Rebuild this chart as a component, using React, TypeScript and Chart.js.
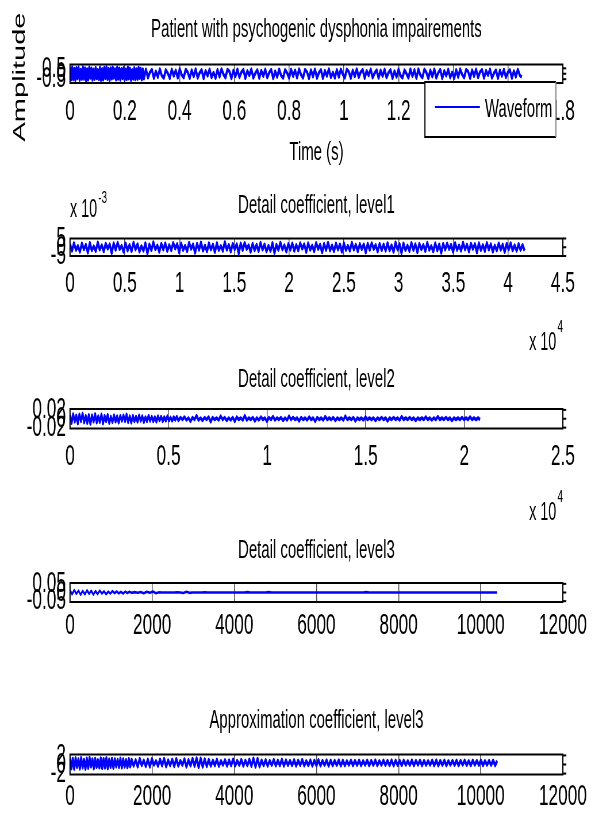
import React, { useEffect, useRef } from "react";
import { Chart, registerables } from "chart.js";

Chart.register(...registerables);

// ---------------- data ----------------
const waveformLabel = "Waveform";
// waveform: dense voiced onset (0 .. 0.27 s) then the rest (0.27 .. 1.65 s)
const waveformOnsetEnd = 0.27;
const waveformEnd = 1.65;
const waveformOnset = [
  0.58, -0.55, 0.61, -0.52, 0.47, -0.6, 0.55, -0.43, 0.6, -0.58,
  0.39, -0.5, 0.62, -0.47, 0.52, -0.61, 0.44, -0.56, 0.59, -0.38,
  0.5, -0.57, 0.41, -0.49, 0.56, -0.44, 0.36, -0.52, 0.6, -0.59,
  0.45, -0.54, 0.57, -0.41, 0.62, -0.5, 0.48, -0.6, 0.53, -0.46,
  0.58, -0.39, 0.44, -0.55, 0.6, -0.48, 0.51, -0.57, 0.46, -0.42,
  0.55, -0.58, 0.4, -0.51, 0.59, -0.45, 0.49, -0.6, 0.37, -0.47,
  0.54, -0.53, 0.43, -0.5, 0.57, -0.4, 0.47, -0.55, 0.42, -0.45,
];
const waveformRest = [
  0.41, -0.36, 0.12, 0.38, -0.4, 0.22, -0.31, 0.43, -0.18, -0.39,
  0.35, 0.05, -0.42, 0.4, -0.2, 0.3, -0.37, 0.44, -0.1, -0.35,
  0.39, 0.15, -0.41, 0.33, -0.25, 0.42, -0.38, 0.08, 0.36, -0.43,
  0.27, -0.19, 0.4, -0.34, 0.11, -0.4, 0.37, -0.28, 0.43, -0.06,
  -0.36, 0.39, 0.2, -0.42, 0.31, -0.24, 0.41, -0.33, 0.14, 0.38,
  -0.41, 0.26, -0.15, 0.42, -0.37, 0.04, 0.35, -0.4, 0.29, -0.22,
  0.4, -0.35, 0.1, 0.37, -0.43, 0.23, -0.3, 0.41, -0.17, -0.38,
  0.36, 0.07, -0.4, 0.39, -0.21, 0.32, -0.36, 0.43, -0.09, -0.37,
  0.38, 0.16, -0.42, 0.34, -0.26, 0.4, -0.39, 0.1, 0.35, -0.41,
  0.28, -0.2, 0.42, -0.33, 0.12, -0.38, 0.36, -0.29, 0.41, -0.05,
  -0.37, 0.4, 0.19, -0.4, 0.3, -0.25, 0.43, -0.32, 0.15, 0.37,
  -0.4, 0.27, -0.16, 0.41, -0.36, 0.06, 0.34, -0.39, 0.3, -0.21,
  0.39, -0.34, 0.11, 0.36, -0.41, 0.24, -0.29, 0.4, -0.16, -0.37,
  0.33, 0.02, -0.38, 0.41, -0.23, 0.35, -0.4, 0.42, -0.12, -0.36,
  0.4, 0.13, -0.43, 0.32, -0.27, 0.41, -0.37, 0.09, 0.38, -0.42,
  0.26, -0.18, 0.39, -0.35, 0.13, -0.41, 0.36, -0.3, 0.42, -0.07,
  -0.35, 0.38, 0.21, -0.41, 0.33, -0.23, 0.4, -0.34, 0.16, 0.36,
  -0.39, 0.28, -0.14, 0.4, -0.38, 0.05, 0.33, -0.41, 0.31, -0.2,
  0.38, -0.33, 0.13, 0.35, -0.4, 0.25, -0.28, 0.39, -0.15, -0.3,
];

// detail coefficient level 1 (values in units of 10^-3), samples 0 .. 41500
const detail1End = 41500;
const detail1Milli = [
  1.9, -2.1, 2.4, -1.6, 0.8, -2.6, 2.2, -1.2, 1.5, -3.1,
  2.5, -1.8, 0.6, -2.2, 2.8, -1.4, 1.2, -2.4, 2.1, -0.9,
  1.7, -3.4, 2.3, -1.5, 2.6, -1.1, 0.9, -2.7, 2.2, -1.9,
  1.4, -2.3, 2.7, -1.3, 1.8, -2.5, 0.7, -2.0, 2.4, -3.6,
  1.6, -1.7, 2.9, -1.2, 1.1, -2.6, 2.0, -1.4, 2.3, -2.2,
  1.3, -1.8, 2.5, -0.8, 1.9, -2.9, 2.2, -1.6, 0.9, -2.3,
  2.6, -1.0, 1.7, -3.2, 2.1, -1.5, 2.8, -2.0, 1.0, -2.4,
  2.3, -1.3, 1.6, -2.8, 2.4, -1.7, 0.8, -2.1, 3.0, -1.5,
  1.4, -2.5, 2.0, -1.1, 1.8, -3.5, 2.2, -1.6, 2.5, -1.0,
  1.2, -2.6, 2.1, -1.8, 1.5, -2.2, 2.6, -1.4, 1.7, -2.4,
  0.9, -2.1, 2.5, -3.3, 1.5, -1.6, 2.7, -1.3, 1.2, -2.5,
  1.9, -1.5, 2.2, -2.1, 1.4, -1.9, 2.4, -0.9, 1.8, -2.8,
  2.3, -1.5, 1.0, -2.4, 2.5, -1.1, 1.6, -3.0, 2.0, -1.6,
  2.7, -1.9, 1.1, -2.3, 2.2, -1.4, 1.7, -2.7, 2.3, -1.6,
  0.9, -2.0, 2.6, -1.4, 1.5, -2.4, 1.9, -1.2, 1.7, -3.1,
  2.1, -1.5, 2.4, -1.1, 1.3, -2.5, 2.0, -1.7, 1.6, -2.0,
  2.4, -1.8, 1.2, -2.6, 2.8, -1.3, 1.9, -3.4, 2.2, -1.7,
  1.0, -2.2, 2.5, -1.6, 1.8, -2.9, 2.1, -1.2, 1.4, -2.3,
  2.6, -1.5, 0.8, -2.4, 2.3, -1.9, 1.7, -3.2, 2.0, -1.4,
  2.2, -1.1, 1.5, -2.7, 2.4, -1.6, 1.1, -2.0, 2.7, -1.3,
  1.6, -2.5, 2.1, -1.0, 1.9, -3.0, 2.3, -1.7, 1.3, -2.2,
  2.5, -1.4, 1.8, -2.6, 1.0, -1.9, 2.2, -1.5, 1.6, -2.8,
  2.0, -1.3, 2.4, -1.8, 1.2, -2.1, 1.9, -1.6, 1.4, -2.0,
];

// detail coefficient level 2, samples 0 .. 5500 (dense) then 5500 .. 20800
const detail2DenseEnd = 5500;
const detail2End = 20800;
const detail2Dense = [
  0.009, -0.01, 0.011, -0.007, 0.008, -0.011, 0.01, -0.006, 0.012, -0.009,
  0.007, -0.01, 0.009, -0.012, 0.008, -0.007, 0.011, -0.009, 0.006, -0.008,
  0.01, -0.011, 0.007, -0.006, 0.009, -0.01, 0.005, -0.008, 0.008, -0.007,
  0.006, -0.009, 0.007, -0.005, 0.008, -0.006, 0.01, -0.008, 0.006, -0.009,
  0.007, -0.006, 0.005, -0.007, 0.008, -0.005, 0.006, -0.008, 0.004, -0.006,
  0.007, -0.005, 0.005, -0.006, 0.004, -0.007, 0.006, -0.004, 0.005, -0.006,
  0.004, -0.005, 0.006, -0.004, 0.003, -0.005, 0.004, -0.003, 0.005, -0.004,
];
const detail2Rest = [
  0.003, -0.002, 0.004, -0.003, 0.002, -0.006, 0.003, -0.002, 0.007, -0.003,
  0.002, -0.004, 0.003, -0.002, 0.004, -0.007, 0.003, -0.002, 0.002, -0.003,
  0.006, -0.002, 0.003, -0.004, 0.002, -0.003, 0.003, -0.006, 0.004, -0.002,
  0.002, -0.003, 0.007, -0.003, 0.002, -0.002, 0.003, -0.005, 0.002, -0.003,
  0.004, -0.002, 0.002, -0.006, 0.003, -0.002, 0.005, -0.003, 0.002, -0.002,
  0.003, -0.004, 0.002, -0.003, 0.006, -0.002, 0.003, -0.002, 0.002, -0.005,
  0.003, -0.002, 0.002, -0.003, 0.004, -0.002, 0.002, -0.006, 0.003, -0.002,
  0.002, -0.003, 0.005, -0.002, 0.002, -0.002, 0.003, -0.004, 0.002, -0.002,
  0.002, -0.003, 0.006, -0.002, 0.002, -0.002, 0.003, -0.005, 0.002, -0.002,
  0.002, -0.003, 0.004, -0.002, 0.002, -0.002, 0.002, -0.004, 0.002, -0.002,
  0.003, -0.002, 0.002, -0.005, 0.002, -0.002, 0.003, -0.002, 0.002, -0.003,
  0.005, -0.002, 0.002, -0.002, 0.003, -0.002, 0.002, -0.004, 0.002, -0.002,
  0.002, -0.002, 0.004, -0.002, 0.002, -0.003, 0.002, -0.002, 0.005, -0.002,
  0.002, -0.002, 0.003, -0.002, 0.002, -0.004, 0.002, -0.002, 0.002, -0.002,
  0.003, -0.002, 0.002, -0.002, 0.004, -0.002, 0.002, -0.002, 0.002, -0.002,
];

// detail coefficient level 3, samples 0 .. 1500 (dense) then 1500 .. 10400
const detail3DenseEnd = 1500;
const detail3End = 10400;
const detail3Dense = [
  0.012, -0.01, 0.014, -0.008, 0.011, -0.013, 0.009, -0.011, 0.013, -0.007, 0.01, -0.012,
  0.008, -0.009, 0.011, -0.006, 0.007, -0.01, 0.005, -0.006, 0.008, -0.004, 0.006, -0.005,
  0.004, -0.006, 0.005, -0.003, 0.004, -0.002,
];
const detail3Rest = [
  0.002, -0.001, 0.003, -0.005, 0.004, -0.002, 0.006, -0.004, 0.001, 0,
  0, 0, 0, 0, 0.001, 0, -0.003, 0.004, -0.002, 0,
  0, 0, 0, 0.001, 0, 0, 0, 0, 0, 0,
  0, 0, 0, 0, 0, 0, 0, 0.002, 0, 0,
  0, 0, 0, 0, 0.002, 0, 0, 0, 0, 0,
  0, 0, 0, 0, 0, 0, 0, 0, 0, 0,
  0, 0, 0, 0, 0, 0, 0, 0, 0, 0,
  0, 0, 0, 0, 0, 0, 0.002, 0, 0, 0,
  0, 0, 0, 0, 0, 0, 0, 0, 0, 0,
  0, 0, 0, 0, 0, 0, 0, 0, 0, 0,
  0, 0, 0, 0, 0, 0, 0, 0, 0, 0,
  0, 0, 0, 0, 0, 0, 0, 0, 0, 0,
];

// approximation coefficient level 3, samples 0 .. 1500 (dense) then 1500 .. 10400
const approx3DenseEnd = 1500;
const approx3End = 10400;
const approx3Dense = [
  1.5, -0.9, 1.3, -1.0, 1.45, -0.6, 1.2, -0.95, 1.5, -0.7,
  1.1, -1.0, 1.35, -0.8, 1.5, -0.5, 1.2, -0.9, 1.3, -0.6,
  1.0, -0.7, 1.4, -0.85, 1.25, -0.75, 1.45, -0.9, 1.15, -0.6,
  1.3, -0.8, 1.2, -0.5, 1.1, -0.6, 1.35, -0.7, 1.2, -0.55,
  1.05, -0.65, 1.25, -0.5, 1.1,
];
const approx3Rest = [
  -0.3, 1.0, -0.5, 1.3, -0.2, 0.9, -0.4, 1.1, -0.5, 1.25,
  -0.1, 0.8, -0.35, 1.15, -0.25, 1.3, -0.45, 0.95, -0.2, 1.1,
  -0.4, 1.25, -0.3, 0.85, -0.15, 1.2, -0.5, 1.0, -0.25, 1.3,
  -0.35, 1.4, -0.6, 1.35, -0.5, 1.2, -0.4, 1.05, -0.3, 0.9,
  -0.2, 1.1, -0.35, 0.8, -0.1, 1.0, -0.3, 0.95, -0.2, 1.15,
  -0.25, 0.85, -0.15, 1.05, -0.3, 0.9, -0.2, 1.1, -0.35, 1.35,
  -0.5, 1.3, -0.45, 0.9, -0.2, 1.0, -0.3, 0.85, -0.15, 1.05,
  -0.25, 0.9, -0.2, 1.1, -0.3, 0.95, -0.15, 0.85, -0.2, 1.0,
  -0.3, 0.9, -0.15, 1.05, -0.25, 0.8, -0.2, 0.95, -0.3, 0.9,
  -0.2, 1.0, -0.25, 0.85, -0.15, 0.95, -0.3, 0.9, -0.2, 0.85,
  -0.15, 0.95, -0.25, 0.9, -0.2, 0.8, -0.1, 0.9, -0.2, 0.85,
  -0.15, 0.9, -0.2, 0.8, -0.1, 0.9, -0.2, 0.85, -0.15, 0.95,
  -0.2, 0.8, -0.1, 0.9, -0.15, 0.85, -0.2, 0.95, -0.25, 0.9,
  -0.15, 0.85, -0.2, 0.9, -0.1, 0.8, -0.15, 0.95, -0.2, 0.85,
  -0.1, 0.9, -0.2, 0.85, -0.15, 0.8, -0.1, 0.9, -0.2, 0.95,
  -0.25, 0.85, -0.15, 0.9, -0.2, 0.8, -0.1, 0.85, -0.15, 0.9,
  -0.2, 0.85, -0.1, 0.9, -0.15, 0.8, -0.2, 0.9, -0.1, 0.85,
  -0.15, 0.9, -0.2, 0.8, -0.1, 0.85, -0.15, 0.9, -0.2, 0.8,
];

const timeTicks = [0, 0.2, 0.4, 0.6, 0.8, 1, 1.2, 1.4, 1.6, 1.8];
const level1Ticks = [0, 5000, 10000, 15000, 20000, 25000, 30000, 35000, 40000, 45000];
const level2Ticks = [0, 5000, 10000, 15000, 20000, 25000];
const level3Ticks = [0, 2000, 4000, 6000, 8000, 10000, 12000];
const waveformYTicks = [-0.5, 0, 0.5];
const detail1YTicks = [-5, 0, 5];
const detail2YTicks = [-0.02, 0, 0.02];
const detail3YTicks = [-0.05, 0, 0.05];
const approx3YTicks = [-2, 0, 2];

// ---------------- layout / style ----------------
const SX = 0.575; // the figure is squeezed horizontally
const PAGE_W = 595;
const LOGICAL_W = Math.round(PAGE_W / SX);
const FAMILY = "'Liberation Sans', Arial, Helvetica, sans-serif";
const TITLE_SIZE = 26;
const TICK_SIZE = 30;
const BOX_LEFT = 70;
const BOX_RIGHT = 563;
const BLUE = "#0000ff";

const fmt = (v: number) => String(Math.round(v * 1e6) / 1e6);
const fmt1e4 = (v: number) => String(Math.round((v / 10000) * 1e6) / 1e6);

// samples of one segment spread over (start, end]; the first segment includes start
const segment = (values: number[], start: number, end: number, includeStart: boolean) =>
  values.map((v, i) => {
    const n = includeStart ? values.length - 1 : values.length;
    const k = includeStart ? i : i + 1;
    return { x: start + ((end - start) * k) / n, y: v };
  });

type Pt = { x: number; y: number };
type Panel = {
  key: string;
  top: number;
  height: number;
  title: string;
  titleMid: number;
  boxTop: number;
  boxBottom: number;
  tickMid: number;
  xMax: number;
  xTicks: number[];
  xFmt: (v: number) => string;
  yMin: number;
  yMax: number;
  yTicks: number[];
  points: Pt[];
  label: string;
  lineWidth: number;
  xTitle?: string;
  xTitleMid?: number;
  extras?: (chart: any) => void;
};

function drawPower(ctx: CanvasRenderingContext2D, base: string, exp: string, x: number, yBase: number, yExp: number, align: "left" | "right") {
  ctx.save();
  ctx.fillStyle = "#000";
  ctx.textBaseline = "middle";
  ctx.font = `25px ${FAMILY}`;
  const bw = ctx.measureText(base).width;
  ctx.font = `17px ${FAMILY}`;
  const ew = ctx.measureText(exp).width;
  const gap = 2;
  const startX = align === "left" ? x : x - bw - gap - ew;
  ctx.font = `25px ${FAMILY}`;
  ctx.textAlign = "left";
  ctx.fillText(base, startX, yBase);
  ctx.font = `17px ${FAMILY}`;
  ctx.fillText(exp, startX + bw + gap, yExp);
  ctx.restore();
}

const panels: Panel[] = [
  {
    key: "p1",
    top: 0,
    height: 170,
    title: "Patient with psychogenic dysphonia impairements",
    titleMid: 29.5,
    boxTop: 64.5,
    boxBottom: 83,
    tickMid: 112,
    xMax: 1.8,
    xTicks: timeTicks,
    xFmt: fmt,
    yMin: -0.85,
    yMax: 0.85,
    yTicks: waveformYTicks,
    points: [
      ...segment(waveformOnset, 0, waveformOnsetEnd, true),
      ...segment(waveformRest, waveformOnsetEnd, waveformEnd, false),
    ],
    label: waveformLabel,
    lineWidth: 3.6,
    xTitle: "Time (s)",
    xTitleMid: 153,
    extras: (chart) => {
      const { ctx, chartArea: a } = chart;
      // y-axis label
      ctx.save();
      ctx.fillStyle = "#000";
      ctx.font = `29px ${FAMILY}`;
      ctx.translate(20 / SX, 77);
      ctx.rotate(-Math.PI / 2);
      ctx.textAlign = "center";
      ctx.textBaseline = "middle";
      ctx.fillText("Amplitude", 0, 0);
      ctx.restore();
      // legend box
      const ds = chart.data.datasets[0];
      const w = 131 / SX;
      const h = 55;
      const right = a.right - 7 / SX;
      const left = right - w;
      const top = a.bottom - 1;
      ctx.save();
      ctx.fillStyle = "#fff";
      ctx.fillRect(left, top, w, h);
      ctx.lineWidth = 2;
      ctx.strokeStyle = "#000";
      ctx.beginPath();
      ctx.moveTo(right, top);
      ctx.lineTo(left, top);
      ctx.lineTo(left, top + h);
      ctx.lineTo(right, top + h);
      ctx.stroke();
      ctx.strokeStyle = "#888";
      ctx.beginPath();
      ctx.moveTo(right, top);
      ctx.lineTo(right, top + h);
      ctx.stroke();
      ctx.strokeStyle = ds.borderColor;
      ctx.lineWidth = 2;
      ctx.beginPath();
      ctx.moveTo(left + 10 / SX, top + 25);
      ctx.lineTo(left + 55 / SX, top + 25);
      ctx.stroke();
      ctx.fillStyle = "#000";
      ctx.font = `26px ${FAMILY}`;
      ctx.textAlign = "left";
      ctx.textBaseline = "middle";
      ctx.fillText(ds.label, left + 60 / SX, top + 27.5);
      ctx.restore();
    },
  },
  {
    key: "p2",
    top: 170,
    height: 180,
    title: "Detail coefficient, level1",
    titleMid: 206,
    boxTop: 238.5,
    boxBottom: 256,
    tickMid: 284,
    xMax: 45000,
    xTicks: level1Ticks,
    xFmt: fmt1e4,
    yMin: -5,
    yMax: 5,
    yTicks: detail1YTicks,
    points: segment(detail1Milli, 0, detail1End, true),
    label: "Detail coefficient, level1",
    lineWidth: 3.6,
    extras: (chart) => {
      const { ctx, chartArea: a } = chart;
      drawPower(ctx, "x 10", "-3", a.left, 210 - 170, 198 - 170, "left");
      drawPower(ctx, "x 10", "4", a.right, 343 - 170, 327 - 170, "right");
    },
  },
  {
    key: "p3",
    top: 350,
    height: 170,
    title: "Detail coefficient, level2",
    titleMid: 380,
    boxTop: 409,
    boxBottom: 428.5,
    tickMid: 457,
    xMax: 25000,
    xTicks: level2Ticks,
    xFmt: fmt1e4,
    yMin: -0.022,
    yMax: 0.022,
    yTicks: detail2YTicks,
    points: [
      ...segment(detail2Dense, 0, detail2DenseEnd, true),
      ...segment(detail2Rest, detail2DenseEnd, detail2End, false),
    ],
    label: "Detail coefficient, level2",
    lineWidth: 3.4,
    extras: (chart) => {
      const { ctx, chartArea: a } = chart;
      drawPower(ctx, "x 10", "4", a.right, 513 - 350, 497 - 350, "right");
    },
  },
  {
    key: "p4",
    top: 520,
    height: 170,
    title: "Detail coefficient, level3",
    titleMid: 551,
    boxTop: 583,
    boxBottom: 602,
    tickMid: 626,
    xMax: 12000,
    xTicks: level3Ticks,
    xFmt: fmt,
    yMin: -0.055,
    yMax: 0.055,
    yTicks: detail3YTicks,
    points: [
      ...segment(detail3Dense, 0, detail3DenseEnd, true),
      ...segment(detail3Rest, detail3DenseEnd, detail3End, false),
    ],
    label: "Detail coefficient, level3",
    lineWidth: 2.6,
  },
  {
    key: "p5",
    top: 690,
    height: 126,
    title: "Approximation coefficient, level3",
    titleMid: 721,
    boxTop: 754.5,
    boxBottom: 774.5,
    tickMid: 797,
    xMax: 12000,
    xTicks: level3Ticks,
    xFmt: fmt,
    yMin: -2.2,
    yMax: 2.2,
    yTicks: approx3YTicks,
    points: [
      ...segment(approx3Dense, 0, approx3DenseEnd, true),
      ...segment(approx3Rest, approx3DenseEnd, approx3End, false),
    ],
    label: "Approximation coefficient, level3",
    lineWidth: 3.6,
  },
];

function makeConfig(p: Panel): any {
  const H = p.height;
  const boxTop = p.boxTop - p.top;
  const boxBottom = p.boxBottom - p.top;
  const titleMid = p.titleMid - p.top;
  const tickMid = p.tickMid - p.top;
  const tlh = TITLE_SIZE * 1.2;
  const klh = TICK_SIZE * 1.2;
  const xScaleHeight = H - boxBottom;
  const yScaleWidth = BOX_LEFT / SX;

  const framePlugin = {
    id: "frame_" + p.key,
    afterDatasetsDraw(chart: any) {
      const { ctx, chartArea: a } = chart;
      ctx.save();
      ctx.strokeStyle = "#000";
      ctx.lineWidth = 2;
      ctx.strokeRect(a.left, a.top, a.right - a.left, a.bottom - a.top);
      const ys = chart.scales.y;
      ys.ticks.forEach((t: any) => {
        const py = ys.getPixelForValue(t.value);
        ctx.beginPath();
        ctx.moveTo(a.right, py);
        ctx.lineTo(a.right + 6, py);
        ctx.stroke();
      });
      ctx.restore();
    },
    afterDraw(chart: any) {
      if (p.extras) p.extras(chart);
    },
  };

  return {
    type: "line",
    data: {
      datasets: [
        {
          label: p.label,
          data: p.points,
          borderColor: BLUE,
          backgroundColor: BLUE,
          borderWidth: p.lineWidth,
          borderJoinStyle: "round",
          pointRadius: 0,
          tension: 0,
          fill: false,
        },
      ],
    },
    options: {
      responsive: false,
      animation: false,
      devicePixelRatio: 1,
      events: [],
      layout: {
        padding: {
          top: 0,
          bottom: 0,
          left: 0,
          right: LOGICAL_W - BOX_RIGHT / SX,
        },
      },
      plugins: {
        legend: { display: false },
        tooltip: { enabled: false },
        title: {
          display: true,
          fullSize: false,
          text: p.title,
          color: "#000",
          font: { family: FAMILY, size: TITLE_SIZE, weight: "normal", lineHeight: 1.2 },
          padding: { top: titleMid - tlh / 2, bottom: boxTop - titleMid - tlh / 2 },
        },
      },
      scales: {
        x: {
          type: "linear",
          bounds: "data",
          min: 0,
          max: p.xMax,
          afterBuildTicks: (s: any) => {
            s.ticks = p.xTicks.map((v) => ({ value: v }));
          },
          afterFit: (s: any) => {
            s.height = xScaleHeight;
          },
          ticks: {
            autoSkip: false,
            maxRotation: 0,
            minRotation: 0,
            padding: tickMid - boxBottom - klh / 2,
            color: "#000",
            font: { family: FAMILY, size: TICK_SIZE, lineHeight: 1.2 },
            callback: (v: number) => p.xFmt(v),
          },
          grid: {
            display: true,
            drawOnChartArea: true,
            drawTicks: false,
            color: "#555",
            lineWidth: 1.5,
          },
          border: { display: false },
          title: p.xTitle
            ? {
                display: true,
                text: p.xTitle,
                color: "#000",
                font: { family: FAMILY, size: TITLE_SIZE, lineHeight: 1.2 },
                padding: { top: 0, bottom: H - (p.xTitleMid! - p.top) - tlh / 2 },
              }
            : { display: false },
        },
        y: {
          type: "linear",
          bounds: "data",
          min: p.yMin,
          max: p.yMax,
          afterBuildTicks: (s: any) => {
            s.ticks = p.yTicks.map((v) => ({ value: v }));
          },
          afterFit: (s: any) => {
            s.width = yScaleWidth;
          },
          ticks: {
            autoSkip: false,
            padding: 7,
            color: "#000",
            font: { family: FAMILY, size: TICK_SIZE, lineHeight: 1.2 },
            callback: (v: number) => fmt(v),
          },
          grid: { display: false, drawTicks: false },
          border: { display: false },
        },
      },
    },
    plugins: [framePlugin],
  };
}

function PanelChart({ p }: { p: Panel }) {
  const ref = useRef<HTMLCanvasElement>(null);
  useEffect(() => {
    if (!ref.current) return;
    const chart = new Chart(ref.current, makeConfig(p));
    return () => chart.destroy();
  }, [p]);
  return (
    <canvas
      ref={ref}
      width={LOGICAL_W}
      height={p.height}
      style={{
        position: "absolute",
        left: 0,
        top: p.top,
        width: PAGE_W + "px",
        height: p.height + "px",
        display: "block",
      }}
    />
  );
}

export default function App() {
  return (
    <div
      style={{
        position: "absolute",
        left: 0,
        top: 0,
        width: PAGE_W,
        height: 816,
        overflow: "hidden",
        background: "#fff",
      }}
    >
      {panels.map((p) => (
        <PanelChart key={p.key} p={p} />
      ))}
    </div>
  );
}
